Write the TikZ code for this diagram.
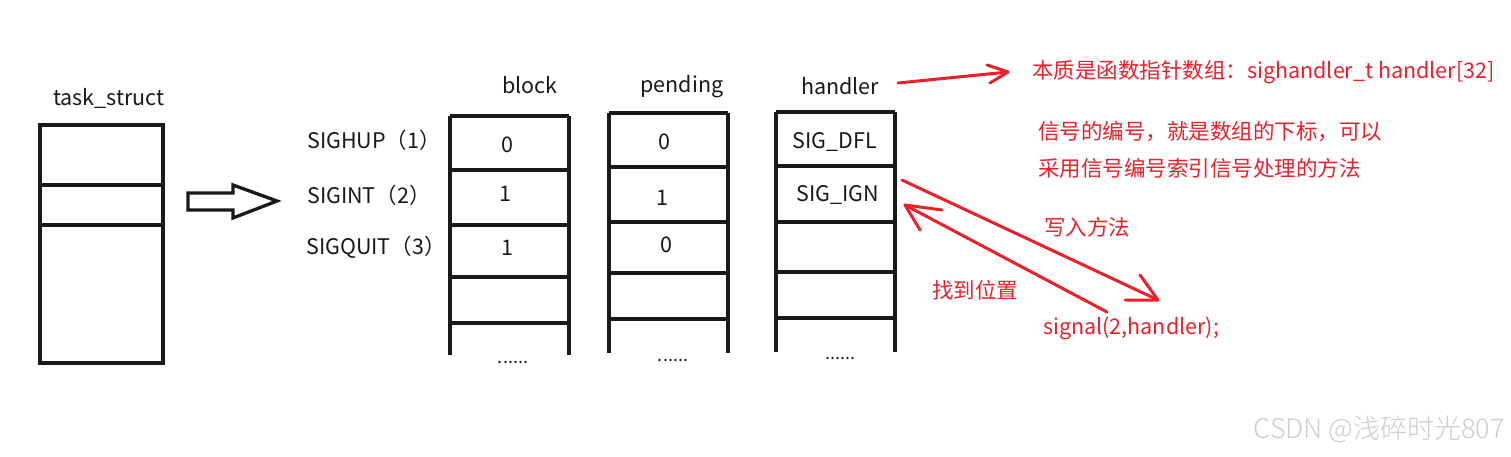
\documentclass[tikz,border=0pt]{standalone}
\usepackage{fontspec}
\setmainfont{Noto Sans CJK SC}
\newfontfamily\wmfont{Noto Sans CJK SC Light}
\definecolor{ink}{RGB}{25,25,25}
\definecolor{sred}{RGB}{236,32,42}
\definecolor{wm}{RGB}{205,205,205}
\begin{document}
\begin{tikzpicture}[x=1pt,y=-1pt,
  bl/.style={draw=ink, line width=3.3pt},
  txt/.style={font=\fontsize{21.5}{25}\selectfont, text=ink, inner sep=0pt},
  dots/.style={font=\fontsize{18}{20}\selectfont, text=ink, inner sep=0pt},
  rtxt/.style={font=\fontsize{21.5}{25}\selectfont, text=sred, inner sep=0pt},
  rline/.style={draw=sred, line width=3pt, line cap=round, line join=round}]
\useasboundingbox[fill=white] (0,0) rectangle (1511,457);

% task_struct
\node[txt] (tslabel) at (109,98) {task\_struct};
\draw[bl] (40,125) rectangle (163,363);
\draw[bl] (40,185) -- (163,185);
\draw[bl] (40,225) -- (163,225);

% block arrow
\draw[bl, line join=miter] (188,193) -- (233,193) -- (233,185) -- (277,201) -- (233,218) -- (233,210) -- (188,210) -- cycle;

% signal names
\node[txt, anchor=west] (s1) at (307,140) {SIGHUP（1）};
\node[txt, anchor=west] (s2) at (307,195) {SIGINT（2）};
\node[txt, anchor=west] (s3) at (306,247) {SIGQUIT（3）};

% block table
\node[txt] (blk) at (530,85) {block};
\draw[bl] (450,116) -- (450,355);
\draw[bl] (569,116) -- (569,355);
\foreach \yy in {116,170,225,277,323} \draw[bl] (450,\yy) -- (569,\yy);
\node[txt] (b1) at (507,145) {0};
\node[txt] (b2) at (505,194) {1};
\node[txt] (b3) at (507,248) {1};
\node[dots] (bd) at (513,362) {......};

% pending table
\node[txt] (pnd) at (682,87) {pending};
\draw[bl] (609,113) -- (609,353);
\draw[bl] (728,113) -- (728,353);
\foreach \yy in {113,167,222,273,319} \draw[bl] (609,\yy) -- (728,\yy);
\node[txt] (p1) at (664,142) {0};
\node[txt] (p2) at (662,198) {1};
\node[txt] (p3) at (666,245) {0};
\node[dots] (pd) at (673,360) {......};

% handler table
\node[txt] (hnd) at (840,86) {handler};
\draw[bl] (776,112) -- (776,352);
\draw[bl] (895,112) -- (895,352);
\foreach \yy in {112,166,222,272,318} \draw[bl] (776,\yy) -- (895,\yy);
\node[txt] (h1) at (835,142) {SIG\_DFL};
\node[txt] (h2) at (838,195) {SIG\_IGN};
\node[dots] (hd) at (840,358) {......};

% red notes
\node[rtxt, anchor=west] (note1) at (1032,72) {本质是函数指针数组：sighandler\_t handler[32]};
\node[rtxt, anchor=west] (note2) at (1038,132) {信号的编号，就是数组的下标，可以};
\node[rtxt, anchor=west] (note3) at (1038,168) {采用信号编号索引信号处理的方法};
\node[rtxt] (write) at (1087,227) {写入方法};
\node[rtxt] (find) at (975,290) {找到位置};
\node[rtxt, anchor=west] (sig) at (1043,328) {signal(2,handler);};

% red arrows
\coordinate (a1s) at (898,83);
\coordinate (a1e) at (1008,72);
\draw[rline] (a1s) -- (a1e);
\draw[rline] (987,65) -- (a1e) -- (990,83);

\coordinate (a2s) at (902,180);
\coordinate (a2e) at (1158,300);
\draw[rline] (a2s) -- (a2e);
\draw[rline] (1140,275) -- (a2e) -- (1125,300);

\coordinate (a3s) at (1107,312);
\coordinate (a3e) at (905,205);
\draw[rline] (a3s) -- (a3e);
\draw[rline] (942,210) -- (a3e) -- (920,230);

% watermark
\node[font=\wmfont\fontsize{27}{30}\selectfont, text=wm, inner sep=0pt, anchor=east] (wmk) at (1505,429) {CSDN @浅碎时光807};
\end{tikzpicture}
\end{document}
